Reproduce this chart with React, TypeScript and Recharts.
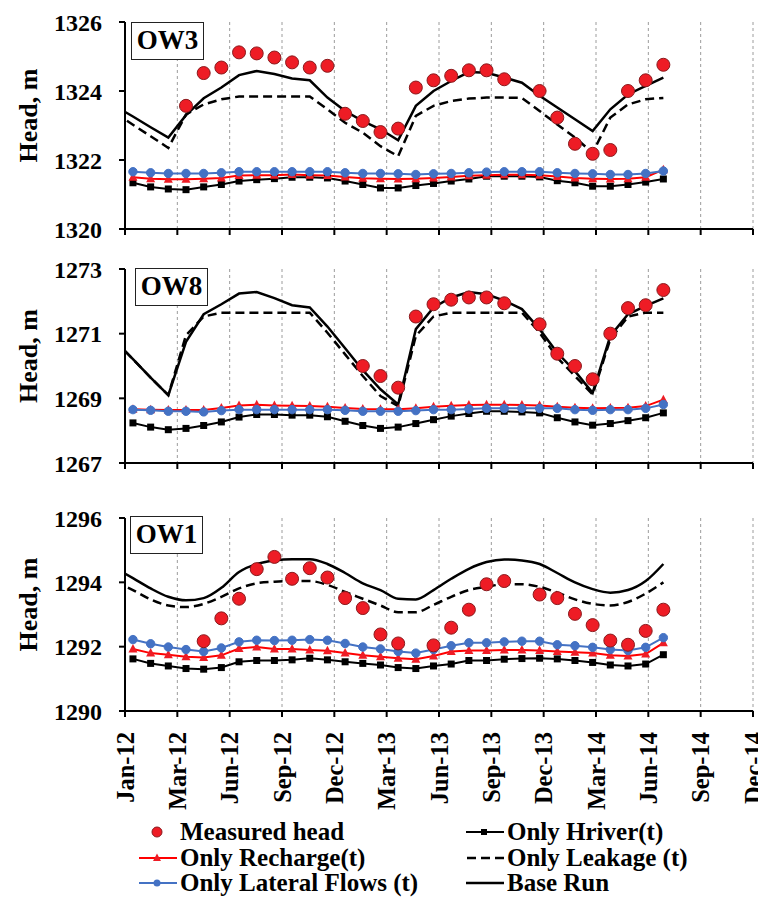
import React from 'react'
import { LineChart, Line, XAxis, YAxis, CartesianGrid } from 'recharts'

const FONT = "'Liberation Serif', 'Times New Roman', serif"

// monthly samples; the model runs start one month before the axis
const MONTHS = [
    'Dec-11',
    'Jan-12', 'Feb-12', 'Mar-12', 'Apr-12', 'May-12', 'Jun-12', 'Jul-12', 'Aug-12', 'Sep-12', 'Oct-12', 'Nov-12', 'Dec-12',
    'Jan-13', 'Feb-13', 'Mar-13', 'Apr-13', 'May-13', 'Jun-13', 'Jul-13', 'Aug-13', 'Sep-13', 'Oct-13', 'Nov-13', 'Dec-13',
    'Jan-14', 'Feb-14', 'Mar-14', 'Apr-14', 'May-14', 'Jun-14', 'Jul-14'
]

const TICK_LABELS = ['Jan-12', 'Mar-12', 'Jun-12', 'Sep-12', 'Dec-12', 'Mar-13', 'Jun-13', 'Sep-13', 'Dec-13', 'Mar-14', 'Jun-14', 'Sep-14', 'Dec-14']

// ---- OW3 ----
const OW3_MEASURED = [null, null, null, null, 1323.57, 1324.52, 1324.68, 1325.12, 1325.09, 1324.97, 1324.83, 1324.68, 1324.73, 1323.34, 1323.13, 1322.81, 1322.91, 1324.10, 1324.31, 1324.44, 1324.60, 1324.60, 1324.34, null, 1324.00, 1323.23, 1322.47, 1322.18, 1322.29, 1324.00, 1324.31, 1324.76]
const OW3_HRIVER = [null, 1321.34, 1321.22, 1321.16, 1321.14, 1321.22, 1321.29, 1321.39, 1321.43, 1321.46, 1321.50, 1321.50, 1321.48, 1321.39, 1321.29, 1321.19, 1321.19, 1321.26, 1321.32, 1321.39, 1321.45, 1321.53, 1321.53, 1321.53, 1321.51, 1321.40, 1321.34, 1321.24, 1321.24, 1321.29, 1321.36, 1321.45]
const OW3_RECHARGE = [null, 1321.50, 1321.46, 1321.44, 1321.44, 1321.46, 1321.48, 1321.55, 1321.56, 1321.56, 1321.58, 1321.56, 1321.55, 1321.51, 1321.47, 1321.46, 1321.45, 1321.46, 1321.48, 1321.51, 1321.54, 1321.56, 1321.57, 1321.57, 1321.56, 1321.52, 1321.48, 1321.46, 1321.45, 1321.46, 1321.50, 1321.72]
const OW3_LATERAL = [null, 1321.66, 1321.63, 1321.61, 1321.61, 1321.61, 1321.63, 1321.66, 1321.66, 1321.66, 1321.66, 1321.66, 1321.66, 1321.63, 1321.61, 1321.61, 1321.60, 1321.58, 1321.60, 1321.61, 1321.63, 1321.65, 1321.66, 1321.66, 1321.66, 1321.63, 1321.61, 1321.60, 1321.58, 1321.58, 1321.61, 1321.68]
const OW3_LEAKAGE = [1323.36, 1323.02, 1322.69, 1322.35, 1323.32, 1323.61, 1323.76, 1323.84, 1323.84, 1323.84, 1323.84, 1323.84, 1323.47, 1323.08, 1322.79, 1322.40, 1322.11, 1323.28, 1323.57, 1323.71, 1323.78, 1323.81, 1323.81, 1323.80, 1323.42, 1323.03, 1322.65, 1322.21, 1323.23, 1323.61, 1323.76, 1323.80]
const OW3_BASE = [1323.56, 1323.26, 1322.95, 1322.65, 1323.30, 1323.79, 1324.10, 1324.46, 1324.58, 1324.49, 1324.36, 1324.31, 1323.81, 1323.42, 1323.13, 1322.89, 1322.57, 1323.57, 1324.00, 1324.29, 1324.55, 1324.53, 1324.39, 1324.24, 1323.86, 1323.52, 1323.18, 1322.84, 1323.47, 1323.90, 1324.15, 1324.39]

// ---- OW8 ----
const OW8_MEASURED = [null, null, null, null, null, null, null, null, null, null, null, null, null, null, 1270.00, 1269.69, 1269.33, 1271.53, 1271.91, 1272.05, 1272.12, 1272.12, 1271.94, null, 1271.29, 1270.38, 1270.00, 1269.59, 1271.00, 1271.79, 1271.88, 1272.35]
const OW8_HRIVER = [null, 1268.24, 1268.11, 1268.03, 1268.07, 1268.16, 1268.27, 1268.42, 1268.50, 1268.50, 1268.48, 1268.48, 1268.43, 1268.29, 1268.16, 1268.07, 1268.11, 1268.22, 1268.34, 1268.45, 1268.53, 1268.60, 1268.60, 1268.58, 1268.55, 1268.40, 1268.27, 1268.17, 1268.22, 1268.31, 1268.40, 1268.55]
const OW8_RECHARGE = [null, 1268.66, 1268.65, 1268.64, 1268.64, 1268.64, 1268.70, 1268.78, 1268.80, 1268.78, 1268.77, 1268.76, 1268.74, 1268.70, 1268.67, 1268.66, 1268.66, 1268.69, 1268.74, 1268.77, 1268.79, 1268.80, 1268.80, 1268.79, 1268.78, 1268.74, 1268.71, 1268.69, 1268.70, 1268.71, 1268.76, 1268.96]
const OW8_LATERAL = [null, 1268.65, 1268.63, 1268.60, 1268.60, 1268.58, 1268.62, 1268.65, 1268.65, 1268.65, 1268.65, 1268.65, 1268.65, 1268.63, 1268.60, 1268.60, 1268.60, 1268.62, 1268.65, 1268.65, 1268.67, 1268.69, 1268.69, 1268.69, 1268.69, 1268.69, 1268.65, 1268.63, 1268.65, 1268.65, 1268.69, 1268.81]
const OW8_LEAKAGE = [1270.77, 1270.21, 1269.64, 1269.10, 1270.95, 1271.53, 1271.65, 1271.65, 1271.65, 1271.65, 1271.65, 1271.65, 1271.03, 1270.36, 1269.69, 1269.07, 1268.76, 1270.93, 1271.53, 1271.65, 1271.65, 1271.65, 1271.65, 1271.65, 1271.03, 1270.26, 1269.69, 1269.12, 1270.83, 1271.53, 1271.65, 1271.65]
const OW8_BASE = [1270.77, 1270.21, 1269.64, 1269.10, 1270.75, 1271.60, 1271.91, 1272.24, 1272.29, 1272.10, 1271.88, 1271.81, 1271.22, 1270.55, 1269.87, 1269.28, 1268.81, 1271.14, 1271.81, 1272.12, 1272.29, 1272.22, 1272.02, 1271.76, 1271.14, 1270.41, 1269.84, 1269.17, 1270.93, 1271.60, 1271.86, 1272.09]

// ---- OW1 ----
const OW1_MEASURED = [null, null, null, null, null, 1292.17, 1292.88, 1293.49, 1294.41, 1294.79, 1294.11, 1294.44, 1294.15, 1293.51, 1293.20, 1292.38, 1292.10, null, 1292.04, 1292.59, 1293.15, 1293.94, 1294.04, null, 1293.62, 1293.51, 1293.02, 1292.67, 1292.19, 1292.06, 1292.49, 1293.15]
const OW1_HRIVER = [null, 1291.62, 1291.48, 1291.40, 1291.32, 1291.30, 1291.35, 1291.53, 1291.57, 1291.57, 1291.59, 1291.64, 1291.59, 1291.53, 1291.48, 1291.43, 1291.35, 1291.32, 1291.40, 1291.46, 1291.57, 1291.57, 1291.61, 1291.63, 1291.64, 1291.62, 1291.57, 1291.51, 1291.43, 1291.40, 1291.46, 1291.75]
const OW1_RECHARGE = [null, 1291.93, 1291.80, 1291.75, 1291.69, 1291.66, 1291.73, 1291.94, 1291.99, 1291.93, 1291.93, 1291.90, 1291.87, 1291.80, 1291.73, 1291.69, 1291.64, 1291.61, 1291.71, 1291.85, 1291.88, 1291.88, 1291.90, 1291.90, 1291.88, 1291.85, 1291.83, 1291.80, 1291.73, 1291.71, 1291.77, 1292.12]
const OW1_LATERAL = [null, 1292.22, 1292.09, 1291.99, 1291.91, 1291.85, 1291.96, 1292.15, 1292.20, 1292.19, 1292.20, 1292.22, 1292.20, 1292.10, 1291.99, 1291.93, 1291.85, 1291.80, 1291.91, 1292.03, 1292.12, 1292.12, 1292.15, 1292.17, 1292.17, 1292.06, 1292.03, 1291.98, 1291.91, 1291.88, 1291.98, 1292.28]
const OW1_LEAKAGE = [1294.02, 1293.76, 1293.47, 1293.28, 1293.23, 1293.33, 1293.55, 1293.81, 1293.97, 1294.02, 1294.04, 1294.04, 1293.92, 1293.70, 1293.49, 1293.28, 1293.07, 1293.07, 1293.30, 1293.55, 1293.76, 1293.86, 1293.94, 1293.94, 1293.86, 1293.68, 1293.47, 1293.33, 1293.28, 1293.39, 1293.65, 1294.00]
const OW1_BASE = [1294.44, 1294.13, 1293.81, 1293.55, 1293.44, 1293.51, 1293.83, 1294.32, 1294.57, 1294.68, 1294.72, 1294.72, 1294.57, 1294.29, 1293.97, 1293.76, 1293.49, 1293.47, 1293.76, 1294.11, 1294.42, 1294.63, 1294.71, 1294.68, 1294.57, 1294.29, 1294.00, 1293.79, 1293.68, 1293.76, 1294.04, 1294.57]

// x axis in months from Jan-12; the 13 ticks are evenly spread over the domain
const X_MIN = -0.45
const X_MAX = 35.07
const X_TICKS = TICK_LABELS.map((_, k) => X_MIN + (k * (X_MAX - X_MIN)) / 12)

const rows = (measured, hriver, recharge, lateral, leakage, base) =>
    MONTHS.map((month, k) => ({
        month,
        t: k - 1,
        measured: measured[k],
        hriver: hriver[k],
        recharge: recharge[k],
        lateral: lateral[k],
        leakage: leakage[k],
        base: base[k]
    }))

const OW3_DATA = rows(OW3_MEASURED, OW3_HRIVER, OW3_RECHARGE, OW3_LATERAL, OW3_LEAKAGE, OW3_BASE)
const OW8_DATA = rows(OW8_MEASURED, OW8_HRIVER, OW8_RECHARGE, OW8_LATERAL, OW8_LEAKAGE, OW8_BASE)
const OW1_DATA = rows(OW1_MEASURED, OW1_HRIVER, OW1_RECHARGE, OW1_LATERAL, OW1_LEAKAGE, OW1_BASE)

const RED = '#ee1c25'
const BLUE = '#4472c4'

const SquareDot = (p: any) => {
    if (p.cy == null || p.value == null) return <g />
    return <rect x={p.cx - 3.5} y={p.cy - 3.5} width={7} height={7} fill="#000" />
}

const TriangleDot = (p: any) => {
    if (p.cy == null || p.value == null) return <g />
    const { cx, cy } = p
    return <polygon points={`${cx},${cy - 5} ${cx - 4.5},${cy + 3.5} ${cx + 4.5},${cy + 3.5}`} fill={RED} />
}

const MeasuredDot = (p: any) => {
    if (p.cy == null || p.value == null) return <g />
    return <circle cx={p.cx} cy={p.cy} r={6.5} fill={RED} stroke="#8a1a1d" strokeWidth={1} />
}

const tickIndex = (v: number) => Math.round(((v - X_MIN) * 12) / (X_MAX - X_MIN))

const DateTick = (p: any) => {
    const { x, y, payload } = p
    return (
        <text
            x={x}
            y={y}
            transform={`rotate(-90 ${x} ${y})`}
            textAnchor="end"
            dominantBaseline="central"
            fontFamily={FONT}
            fontWeight="bold"
            fontSize={24.5}
            fill="#000"
        >
            {TICK_LABELS[tickIndex(payload.value)]}
        </text>
    )
}

const HeadLabel = (p: any) => {
    const vb = p.viewBox || { x: 0, y: 0, width: 0, height: 0 }
    const cx = 28
    const cy = vb.y + vb.height / 2 - 10
    return (
        <text
            x={cx}
            y={cy}
            transform={`rotate(-90 ${cx} ${cy})`}
            textAnchor="middle"
            dominantBaseline="central"
            fontFamily={FONT}
            fontWeight="bold"
            fontSize={26}
            fill="#000"
        >
            Head, m
        </text>
    )
}

function Panel({ data, name, yDomain, yTicks, top, height, marginTop, boxX, boxY, bottom, smooth }: any) {
    const curve = smooth ? 'monotone' : 'linear'
    return (
        <div style={{ position: 'absolute', left: 0, top, width: 758, height }}>
            <LineChart width={758} height={height} data={data} margin={{ top: marginTop, right: 5, bottom: 0, left: 0 }}>
                <CartesianGrid horizontal={false} strokeDasharray="3 3" stroke="#9c9c9c" />
                <XAxis
                    dataKey="t"
                    type="number"
                    domain={[X_MIN, X_MAX]}
                    ticks={X_TICKS}
                    interval={0}
                    allowDataOverflow
                    height={bottom ? 110 : 17}
                    stroke="#000"
                    strokeWidth={2}
                    tickSize={6}
                    tickMargin={15}
                    tick={bottom ? <DateTick /> : { fontSize: 1, fill: '#000' }}
                    tickFormatter={bottom ? undefined : () => ''}
                />
                <YAxis
                    type="number"
                    domain={yDomain}
                    ticks={yTicks}
                    interval={0}
                    allowDataOverflow
                    width={125}
                    stroke="#000"
                    strokeWidth={2}
                    tickSize={6}
                    tickMargin={17}
                    tick={{ fill: '#000', fontSize: 24, fontWeight: 'bold', fontFamily: FONT }}
                    label={<HeadLabel />}
                />
                <Line dataKey="hriver" type="linear" stroke="#000" strokeWidth={2} dot={SquareDot} isAnimationActive={false} />
                <Line dataKey="recharge" type="linear" stroke="#ff0000" strokeWidth={2} dot={TriangleDot} isAnimationActive={false} />
                <Line
                    dataKey="lateral"
                    type="linear"
                    stroke={BLUE}
                    strokeWidth={2}
                    dot={{ r: 4.2, fill: BLUE, stroke: BLUE, strokeWidth: 1 }}
                    isAnimationActive={false}
                />
                <Line dataKey="leakage" type={curve} stroke="#000" strokeWidth={2.5} strokeDasharray="9 5" dot={false} isAnimationActive={false} />
                <Line dataKey="base" type={curve} stroke="#000" strokeWidth={2.5} dot={false} isAnimationActive={false} />
                <Line dataKey="measured" stroke="none" dot={MeasuredDot} isAnimationActive={false} />
            </LineChart>
            <div
                style={{
                    position: 'absolute',
                    left: boxX,
                    top: boxY,
                    width: 73,
                    height: 38,
                    boxSizing: 'border-box',
                    border: '1.5px solid #222',
                    background: '#fff',
                    fontFamily: FONT,
                    fontWeight: 'bold',
                    fontSize: 27,
                    lineHeight: '35px',
                    textAlign: 'center',
                    color: '#000'
                }}
            >
                {name}
            </div>
        </div>
    )
}

const LegendIcon = ({ kind }: { kind: string }) => (
    <svg width={40} height={30} style={{ position: 'absolute', left: -42, top: 0 }}>
        {kind === 'measured' && <circle cx={19} cy={15} r={5} fill={RED} stroke="#8a1a1d" strokeWidth={1} />}
        {kind === 'hriver' && (
            <g>
                <line x1={1} y1={15} x2={39} y2={15} stroke="#000" strokeWidth={2} />
                <rect x={16} y={12} width={6} height={6} fill="#000" />
            </g>
        )}
        {kind === 'recharge' && (
            <g>
                <line x1={1} y1={15} x2={39} y2={15} stroke="#ff0000" strokeWidth={2} />
                <polygon points="19,10.5 15,18 23,18" fill={RED} />
            </g>
        )}
        {kind === 'leakage' && <line x1={2} y1={15} x2={39} y2={15} stroke="#000" strokeWidth={2.5} strokeDasharray="9 5" />}
        {kind === 'lateral' && (
            <g>
                <line x1={1} y1={15} x2={39} y2={15} stroke={BLUE} strokeWidth={2} />
                <circle cx={19} cy={15} r={3.5} fill={BLUE} />
            </g>
        )}
        {kind === 'base' && <line x1={1} y1={15} x2={39} y2={15} stroke="#000" strokeWidth={2.5} />}
    </svg>
)

const LEGEND_NAMES = ['Measured head', 'Only Hriver(t)', 'Only Recharge(t)', 'Only Leakage (t)', 'Only Lateral Flows (t)', 'Base Run']
const LEGEND_KINDS = ['measured', 'hriver', 'recharge', 'leakage', 'lateral', 'base']

export default function App() {
    return (
        <div style={{ position: 'absolute', left: 0, top: 0, width: 758, height: 897, background: '#fff', overflow: 'hidden' }}>
            <Panel data={OW3_DATA} name="OW3" yDomain={[1320, 1326]} yTicks={[1320, 1322, 1324, 1326]}
                top={0} height={246} marginTop={22} boxX={131} boxY={22} />
            <Panel data={OW8_DATA} name="OW8" yDomain={[1267, 1273]} yTicks={[1267, 1269, 1271, 1273]}
                top={240} height={240} marginTop={29} boxX={135} boxY={28} />
            <Panel data={OW1_DATA} name="OW1" yDomain={[1290, 1296]} yTicks={[1290, 1292, 1294, 1296]}
                top={474} height={347} marginTop={44} boxX={130} boxY={42} bottom smooth />
            {LEGEND_NAMES.map((label, i) => (
                <div
                    key={label}
                    style={{
                        position: 'absolute',
                        left: i % 2 === 0 ? 180 : 507,
                        top: 817 + Math.floor(i / 2) * 25.5,
                        height: 30,
                        lineHeight: '30px',
                        fontFamily: FONT,
                        fontWeight: 'bold',
                        fontSize: 25,
                        color: '#000',
                        whiteSpace: 'nowrap'
                    }}
                >
                    <LegendIcon kind={LEGEND_KINDS[i]} />
                    {label}
                </div>
            ))}
        </div>
    )
}
